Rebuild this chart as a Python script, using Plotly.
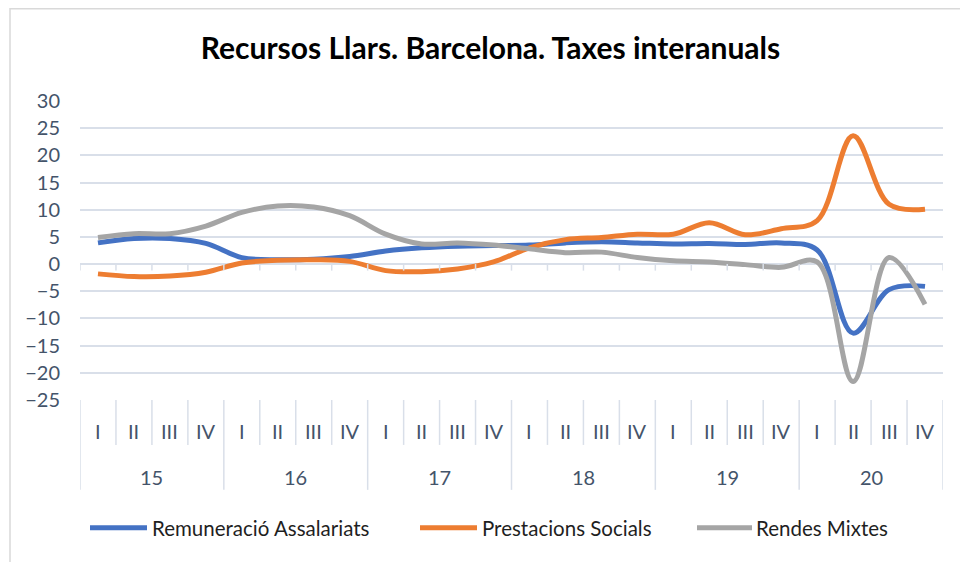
import plotly.graph_objects as go

# ---- data ----
years = ["15", "16", "17", "18", "19", "20"]
quarters = ["I", "II", "III", "IV"]
remuneracio = [3.9, 4.7, 4.7, 3.8, 1.2, 0.8, 0.9, 1.4, 2.4, 3.0, 3.3, 3.4,
               3.5, 3.9, 4.1, 3.9, 3.7, 3.8, 3.6, 3.9, 2.6, -12.7, -4.7, -4.1]
prestacions = [-1.8, -2.3, -2.2, -1.5, 0.2, 0.7, 0.8, 0.5, -1.2, -1.4, -0.9, 0.4,
               3.0, 4.5, 4.9, 5.5, 5.5, 7.6, 5.4, 6.5, 8.0, 23.6, 11.0, 10.1]
rendes = [4.9, 5.6, 5.6, 7.0, 9.5, 10.7, 10.5, 8.9, 5.5, 3.7, 3.9, 3.5,
          2.8, 2.1, 2.2, 1.2, 0.6, 0.4, -0.1, -0.6, 0.4, -21.6, 1.2, -7.4]
series_names = ["Remuneració Assalariats", "Prestacions Socials", "Rendes Mixtes"]
colors = ["#4472C4", "#ED7D31", "#A5A5A5"]
title_text = "Recursos Llars. Barcelona. Taxes interanuals"

cats = [f"{y} {q}" for y in years for q in quarters]
n = len(cats)

W, H = 960, 562
L, R, T, B = 80, 943, 100.5, 400
FONT = "Lato"
TXT = "#44546A"
GRID = "#D9DFE9"


def px(xp):
    return (xp - L) / (R - L)


def py(yp):
    return (B - yp) / (B - T)


fig = go.Figure()
for name, vals, col in zip(series_names, [remuneracio, prestacions, rendes], colors):
    fig.add_trace(go.Scatter(x=cats, y=vals, name=name, mode="lines",
                             line=dict(color=col, width=5, shape="spline", smoothing=1.0),
                             showlegend=False))

shapes = []
annotations = []
# category dividers below plot
for i in range(n + 1):
    is_year = (i % 4 == 0)
    shapes.append(dict(type="line", xref="x", yref="paper", x0=i - 0.5, x1=i - 0.5,
                       y0=0, y1=py(490 if is_year else 445),
                       line=dict(color=GRID, width=1.5)))
    # small tick marks at zero line
    shapes.append(dict(type="line", xref="x", yref="y", x0=i - 0.5, x1=i - 0.5,
                       y0=0, y1=-1.2, line=dict(color=GRID, width=1.5)))
# quarter labels
for i, c in enumerate(cats):
    annotations.append(dict(xref="x", yref="paper", x=c, y=py(431), text=quarters[i % 4],
                            showarrow=False, font=dict(family=FONT, size=20, color=TXT),
                            xanchor="center", yanchor="middle"))
# year labels
for k, y in enumerate(years):
    annotations.append(dict(xref="x", yref="paper", x=k * 4 + 1.5, y=py(477), text=y,
                            showarrow=False, font=dict(family=FONT, size=20, color=TXT),
                            xanchor="center", yanchor="middle"))
# legend (manual)
leg_samples = [(90, 147, 150), (420, 477, 480), (697, 752, 754)]
for (x0, x1, xt), name, col in zip(leg_samples, series_names, colors):
    shapes.append(dict(type="line", xref="paper", yref="paper", x0=px(x0), x1=px(x1),
                       y0=py(528), y1=py(528), line=dict(color=col, width=5)))
    annotations.append(dict(xref="paper", yref="paper", x=px(xt), y=py(528), text=name,
                            showarrow=False, font=dict(family=FONT, size=20.5, color="#1F1F1F"),
                            xanchor="left", yanchor="middle"))
# outer border
shapes.append(dict(type="rect", xref="paper", yref="paper", x0=px(10), x1=px(975),
                   y0=py(8), y1=py(580), line=dict(color="#D9D9D9", width=1.5)))

fig.update_layout(
    width=W, height=H,
    margin=dict(l=L, r=W - R, t=T, b=H - B, pad=0),
    paper_bgcolor="white", plot_bgcolor="white",
    title=dict(text=f"<b>{title_text}</b>", xref="paper", x=px(490.5), xanchor="center",
               yref="container", y=1 - 48 / H, yanchor="middle",
               font=dict(family=FONT, size=30, color="#000000")),
    xaxis=dict(type="category", categoryorder="array", categoryarray=cats,
               range=[-0.5, n - 0.5], showticklabels=False, showgrid=False,
               zeroline=False, showline=False, ticks=""),
    yaxis=dict(range=[-25, 30], dtick=5, tick0=0, showgrid=True, gridcolor=GRID,
               gridwidth=1.5, zeroline=True, zerolinecolor=GRID, zerolinewidth=1.5,
               showline=False, ticks="", ticklabelstandoff=19,
               tickfont=dict(family=FONT, size=20, color=TXT)),
    shapes=shapes, annotations=annotations,
)

fig.write_html("out.html", config={"displayModeBar": False},
               post_script="document.body.style.margin='0';document.body.style.overflow='hidden';")
